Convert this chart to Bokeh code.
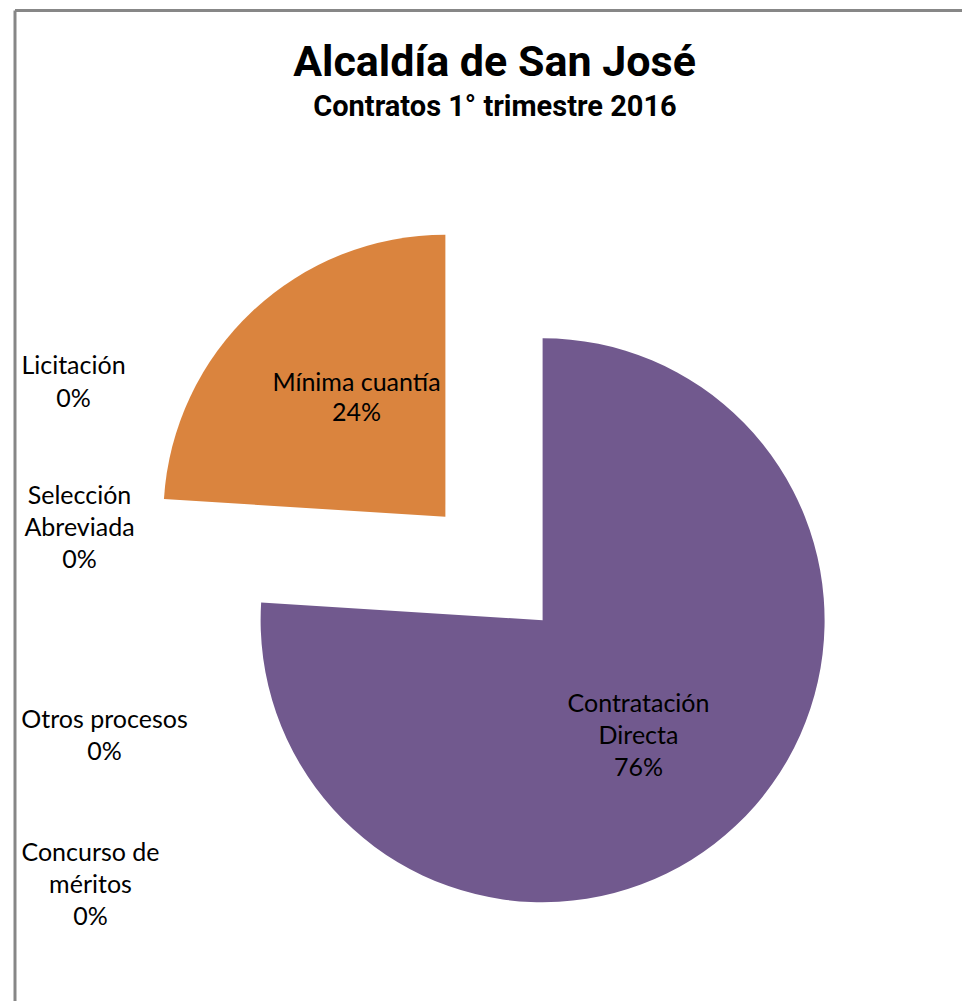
import math
from bokeh.plotting import figure
from bokeh.models import Range1d
from bokeh.core.properties import value
from bokeh.embed import file_html
from bokeh.resources import INLINE

# ---- data ----
title = "Alcaldía de San José"
subtitle = "Contratos 1° trimestre 2016"
categories = ["Contratación Directa", "Concurso de méritos", "Otros procesos",
              "Selección Abreviada", "Licitación", "Mínima cuantía"]
values = [76, 0, 0, 0, 0, 24]
label_text = {
    "Contratación Directa": ["Contratación", "Directa"],
    "Concurso de méritos": ["Concurso de", "méritos"],
    "Otros procesos": ["Otros procesos"],
    "Selección Abreviada": ["Selección", "Abreviada"],
    "Licitación": ["Licitación"],
    "Mínima cuantía": ["Mínima cuantía"],
}
colors = {"Contratación Directa": "#71598E", "Mínima cuantía": "#DA843E"}

# ---- layout (page pixels) ----
W, H = 962, 1001
def px(X):
    return X
def py(Y):
    return H - Y

pie_cx, pie_cy = px(493.5), py(568)
radius = 282
explode = 71
label_pos = {  # centre x, y of first line (page pixels), line spacing
    "Contratación Directa": (638, 701, 32),
    "Concurso de méritos": (90, 850, 32),
    "Otros procesos": (104, 717, 32),
    "Selección Abreviada": (79, 493, 32),
    "Licitación": (73, 363, 33),
    "Mínima cuantía": (356, 380, 30),
}

p = figure(width=W, height=H, output_backend="svg", toolbar_location=None,
           x_range=Range1d(0, W), y_range=Range1d(0, H), min_border=0)
p.axis.visible = False
p.grid.visible = False
p.outline_line_color = None
p.background_fill_color = "white"
p.border_fill_color = "white"

# chart border (top and left visible)
p.segment(x0=[px(14.5), px(14.5)], y0=[py(10), py(10)],
          x1=[px(14.5), W + 20], y1=[-20, py(10)],
          line_color="#878787", line_width=3)

total = sum(values)
cum = 0
for cat, v in zip(categories, values):
    a0 = math.radians(90 - cum / total * 360)
    cum += v
    a1 = math.radians(90 - cum / total * 360)
    if v > 0:
        mid = (a0 + a1) / 2
        cx = pie_cx + explode * math.cos(mid)
        cy = pie_cy + explode * math.sin(mid)
        p.wedge(x=[cx], y=[cy], radius=radius, start_angle=[a1], end_angle=[a0],
                direction="anticlock", fill_color=colors[cat], line_color=None)
    lines = label_text[cat] + [f"{v}%"]
    lx, ly, ls = label_pos[cat]
    for i, t in enumerate(lines):
        p.text(x=[px(lx)], y=[py(ly + i * ls)], text=[t], text_align="center",
               text_baseline="middle", text_font=value("Lato"),
               text_font_size="25px", text_color="black")

p.text(x=[px(494)], y=[py(60)], text=[title], text_align="center",
       text_baseline="middle", text_font=value("Roboto"),
       text_font_style="bold", text_font_size="43px", text_color="black")
p.text(x=[px(494.5)], y=[py(105.5)], text=[subtitle], text_align="center",
       text_baseline="middle", text_font=value("Roboto"),
       text_font_style="bold", text_font_size="29px", text_color="black")

open("out.html", "w").write(file_html(p, INLINE))
